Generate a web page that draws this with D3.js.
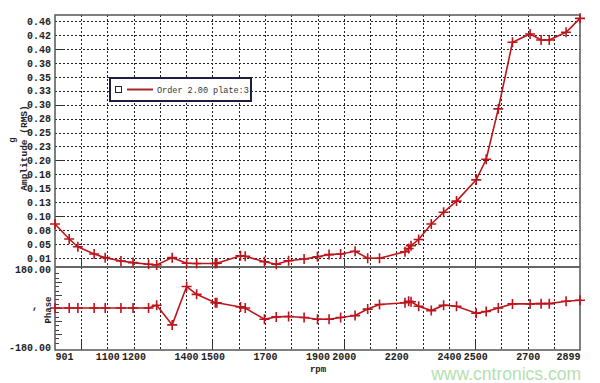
<!DOCTYPE html>
<html lang="en">
<head>
  <meta charset="UTF-8">
  <script src="https://d3js.org/d3.v7.min.js"></script>
  <title>Order 2.00 plate:3</title>
  <style>
    body { margin: 0; background: #fff; }
    svg text { font-family: "Liberation Mono", "Courier New", monospace; }
  </style>
</head>
<body>
  <div class="chart"></div>
  <script>
    // order track
    const seriesName = 'Order 2.00 plate:3';
    const rpm = [901, 955, 988, 1050, 1092, 1152, 1198, 1257, 1288, 1347, 1402, 1440, 1511, 1517,
      1607, 1625, 1698, 1743, 1790, 1849, 1900, 1944, 1988, 2043, 2091, 2136, 2233, 2247, 2256,
      2285, 2333, 2380, 2429, 2504, 2542, 2588, 2642, 2709, 2751, 2782, 2846, 2899];
    const amplitude = [0.086, 0.059, 0.045, 0.032, 0.0255, 0.0196, 0.0166, 0.0137, 0.0124, 0.0255,
      0.0155, 0.015, 0.015, 0.0155, 0.029, 0.028, 0.018, 0.0137, 0.020, 0.023, 0.027, 0.031, 0.032,
      0.037, 0.0245, 0.0245, 0.036, 0.042, 0.047, 0.058, 0.086, 0.107, 0.127, 0.165, 0.202, 0.2925,
      0.412, 0.427, 0.416, 0.416, 0.430, 0.455];
    const phase = [0, 0, 0, 0, 0, 0, 0, 0, 13, -78, 99, 63, 24, 24, 5, 0, -52, -41, -39, -44, -52,
      -52, -44, -35, -5, 16, 24, 31, 29, 8, -12, 13, 8, -24, -16, 0, 19, 19, 20, 20, 31, 36];

    const ampTicks = [0.025, 0.05, 0.075, 0.1, 0.125, 0.15, 0.175, 0.2, 0.225, 0.25, 0.275, 0.3,
      0.325, 0.35, 0.375, 0.4, 0.425, 0.45];
    const ampTickLabels = ['0.01', '0.05', '0.08', '0.10', '0.13', '0.15', '0.18', '0.20', '0.23',
      '0.25', '0.28', '0.30', '0.33', '0.35', '0.38', '0.40', '0.42', '0.46'];
    const ampMajor = [0.1, 0.2, 0.3, 0.4];
    const phaseTicks = [180, -180];
    const phaseTickLabels = ['180.00', '-180.00'];
    const rpmTicks = [901, 1100, 1200, 1400, 1500, 1700, 1900, 2000, 2200, 2400, 2500, 2700, 2899];
    const rpmGrid = [1000, 1100, 1200, 1300, 1400, 1500, 1600, 1700, 1800, 1900, 2000, 2100, 2200,
      2300, 2400, 2500, 2600, 2700, 2800];
    const rpmMajor = [1000, 1500, 2000, 2500];

    const W = 600, H = 383;
    const pLeft = 55, pRight = 580, pTop = 15, pMid = 267, pBottom = 350;
    const red = '#bd151c';

    const svg = d3.select('.chart').append('svg').attr('width', W).attr('height', H);

    const x = d3.scaleLinear().domain([901, 2899]).range([pLeft, pRight]);
    const yA = d3.scaleLinear().domain([0.0087, 0.461]).range([pMid, pTop]);
    const yP = d3.scaleLinear().domain([-180, 180]).range([347, 269]);

    const dotted = sel => sel.attr('stroke', '#222').attr('stroke-width', 1).attr('stroke-dasharray', '2,2');

    // grid
    svg.append('g').selectAll('line').data(ampTicks).join('line')
      .attr('x1', pLeft).attr('x2', pRight)
      .attr('y1', d => Math.round(yA(d)) + 0.5).attr('y2', d => Math.round(yA(d)) + 0.5)
      .call(dotted);
    svg.append('g').selectAll('line').data(rpmGrid).join('line')
      .attr('x1', d => Math.round(x(d)) + 0.5).attr('x2', d => Math.round(x(d)) + 0.5)
      .attr('y1', pTop).attr('y2', pBottom)
      .call(dotted);

    // solid major ticks
    svg.append('g').selectAll('line').data(ampMajor).join('line')
      .attr('x1', pLeft).attr('x2', pLeft + 9)
      .attr('y1', d => Math.round(yA(d)) + 0.5).attr('y2', d => Math.round(yA(d)) + 0.5)
      .attr('stroke', '#333');
    [pMid, pBottom].forEach(yb => {
      svg.append('g').selectAll('line').data(rpmMajor).join('line')
        .attr('x1', d => Math.round(x(d)) + 0.5).attr('x2', d => Math.round(x(d)) + 0.5)
        .attr('y1', yb).attr('y2', yb - 9)
        .attr('stroke', '#333');
    });
    // phase minor ticks
    svg.append('g').selectAll('line').data(d3.range(-160, 180, 20)).join('line')
      .attr('x1', pLeft).attr('x2', d => pLeft + (d % 60 === 0 ? 7 : 4))
      .attr('y1', d => Math.round(yP(d)) + 0.5).attr('y2', d => Math.round(yP(d)) + 0.5)
      .attr('stroke', '#444');

    // frame
    svg.append('rect').attr('x', pLeft).attr('y', pTop).attr('width', pRight - pLeft).attr('height', pBottom - pTop)
      .attr('fill', 'none').attr('stroke', '#555').attr('stroke-width', 1.5);
    svg.append('line').attr('x1', pLeft).attr('x2', pRight).attr('y1', pMid).attr('y2', pMid)
      .attr('stroke', '#666').attr('stroke-width', 2);

    // series
    const pts = rpm.map((r, i) => ({ r, a: amplitude[i], p: phase[i] }));
    const plus = (g, yFn) => {
      g.selectAll('path.m').data(pts).join('path').attr('class', 'm')
        .attr('d', d => `M${x(d.r) - 5},${yFn(d)}h10M${x(d.r)},${yFn(d) - 5}v10`)
        .attr('stroke', red).attr('stroke-width', 1.6).attr('fill', 'none');
    };
    const gA = svg.append('g');
    gA.append('path').datum(pts)
      .attr('d', d3.line().x(d => x(d.r)).y(d => yA(d.a)))
      .attr('fill', 'none').attr('stroke', red).attr('stroke-width', 1.6);
    plus(gA, d => yA(d.a));
    const gP = svg.append('g');
    gP.append('path').datum(pts)
      .attr('d', d3.line().x(d => x(d.r)).y(d => yP(d.p)))
      .attr('fill', 'none').attr('stroke', red).attr('stroke-width', 1.6);
    plus(gP, d => yP(d.p));

    // axes
    const styleAxis = g => {
      g.select('.domain').remove();
      g.selectAll('text').attr('font-family', '"Liberation Mono", monospace')
        .attr('font-weight', 'bold').attr('font-size', 10).attr('fill', '#222');
    };
    svg.append('g').attr('transform', `translate(${pLeft - 1},0)`)
      .call(d3.axisLeft(yA).tickValues(ampTicks).tickFormat((d, i) => ampTickLabels[i]).tickSize(0).tickPadding(3))
      .call(styleAxis);
    svg.append('g').attr('transform', `translate(${pLeft - 1},0)`)
      .call(d3.axisLeft(yP).tickValues(phaseTicks).tickFormat((d, i) => phaseTickLabels[i]).tickSize(0).tickPadding(3))
      .call(styleAxis);
    const xAxis = svg.append('g').attr('transform', `translate(0,${pBottom})`)
      .call(d3.axisBottom(x).tickValues(rpmTicks).tickFormat(d => d).tickSize(0).tickPadding(3))
      .call(styleAxis);
    xAxis.selectAll('text').filter(d => d === 901).attr('text-anchor', 'start');
    xAxis.selectAll('text').filter(d => d === 2899).attr('text-anchor', 'end');

    // axis titles
    svg.append('text').attr('transform', 'translate(27,148) rotate(-90)')
      .attr('text-anchor', 'middle').attr('font-size', 9.5).attr('font-weight', 'bold').attr('fill', '#222')
      .text('Amplitude (RMS)');
    svg.append('text').attr('transform', 'translate(15,140) rotate(-90)')
      .attr('text-anchor', 'middle').attr('font-size', 9).attr('font-weight', 'bold').attr('fill', '#222')
      .text('g');
    svg.append('text').attr('transform', 'translate(51,310) rotate(-90)')
      .attr('text-anchor', 'middle').attr('font-size', 9).attr('font-weight', 'bold').attr('fill', '#222')
      .text('Phase');
    svg.append('text').attr('x', 35).attr('y', 309)
      .attr('text-anchor', 'middle').attr('font-size', 10).attr('font-weight', 'bold').attr('fill', '#222')
      .text(',');
    svg.append('text').attr('x', 318).attr('y', 372)
      .attr('text-anchor', 'middle').attr('font-size', 9).attr('font-weight', 'bold').attr('fill', '#222')
      .text('rpm');

    // legend
    const lg = svg.append('g').attr('transform', 'translate(110,78)');
    lg.append('rect').attr('width', 141).attr('height', 23)
      .attr('fill', '#fff').attr('stroke', '#1d1d40').attr('stroke-width', 2);
    lg.append('rect').attr('x', 5.5).attr('y', 8.5).attr('width', 6).attr('height', 6)
      .attr('fill', '#fff').attr('stroke', '#222');
    lg.append('line').attr('x1', 17).attr('x2', 43).attr('y1', 11.5).attr('y2', 11.5)
      .attr('stroke', '#a8272b').attr('stroke-width', 2);
    lg.append('text').attr('x', 47).attr('y', 15).attr('font-size', 8.5).attr('fill', '#333')
      .text(seriesName);

    // watermark
    svg.append('text').attr('x', 581).attr('y', 380).attr('text-anchor', 'end')
      .style('font-family', '"Liberation Sans", Arial, sans-serif').attr('font-size', 17.5)
      .attr('fill', '#a6dca0').attr('opacity', 0.85)
      .text('www.cntronics.com');
  </script>
</body>
</html>
